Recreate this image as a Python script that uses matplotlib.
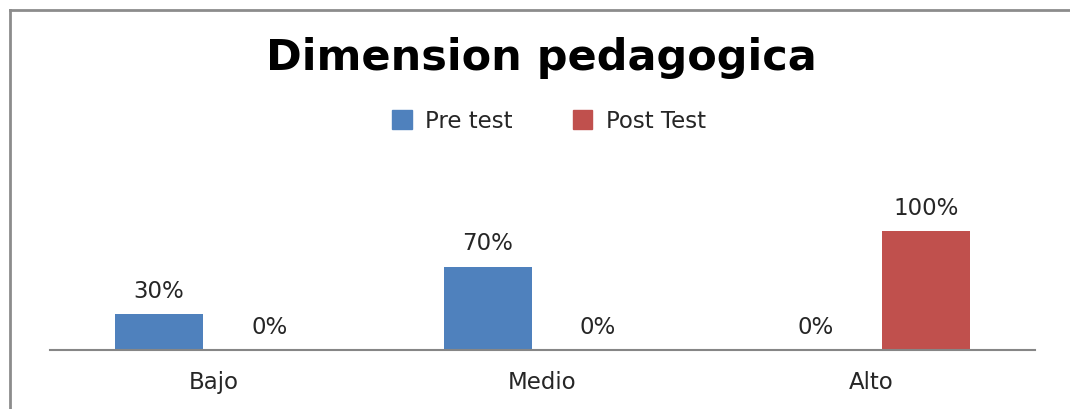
import numpy as np
import matplotlib.pyplot as plt
from matplotlib.lines import Line2D
from matplotlib.patches import Patch

# data
categories = ['Bajo', 'Medio', 'Alto']
pre_test = [0.30, 0.70, 0.0]
post_test = [0.0, 0.0, 1.00]
series_names = ['Pre test', 'Post Test']

blue = '#4F81BD'
red = '#C0504D'
W, H = 1070, 409

fig = plt.figure(figsize=(W / 100, H / 100), dpi=100)
ax = fig.add_axes([50 / W, (H - 350) / H, 985 / W, 143 / H])

x = np.arange(len(categories))
bw = 0.268
off = 0.1675
b1 = ax.bar(x - off, pre_test, bw, color=blue)
b2 = ax.bar(x + off, post_test, bw, color=red)

# value labels over each bar
for bars, vals in ((b1, pre_test), (b2, post_test)):
    for b, v in zip(bars, vals):
        ax.annotate(f'{v:.0%}', (b.get_x() + b.get_width() / 2, v),
                    xytext=(0, 8), textcoords='offset points',
                    ha='center', va='bottom', fontsize=16.5, color='#262626')

ax.set_xlim(-0.5, 2.5)
ax.set_ylim(0, 1.2)
ax.set_xticks(x)
ax.set_xticklabels(categories, fontsize=16.5, color='#262626')
ax.tick_params(axis='x', length=0, pad=15)
ax.set_yticks([])
for s in ('top', 'right', 'left'):
    ax.spines[s].set_visible(False)
ax.spines['bottom'].set_color('#868686')
ax.spines['bottom'].set_linewidth(1.5)

fig.text(541 / W, 1 - 58 / H, 'Dimension pedagogica', ha='center', va='center',
         fontsize=31, fontweight='bold', color='black')

handles = [Patch(color=blue), Patch(color=red)]
fig.legend(handles, series_names, loc='center', bbox_to_anchor=(549 / W, 1 - 121 / H),
           ncol=2, frameon=False, fontsize=16.5, handlelength=0.85, handleheight=0.85,
           columnspacing=2.6, handletextpad=0.6, labelcolor='#262626')

# outer chart border (left and top edges)
fig.add_artist(Line2D([9.5 / W, 9.5 / W], [0, 1 - 10 / H], transform=fig.transFigure,
                      color='#8c8c8c', lw=2))
fig.add_artist(Line2D([9.5 / W, 1], [1 - 10 / H, 1 - 10 / H], transform=fig.transFigure,
                      color='#8c8c8c', lw=2))

fig.savefig('out.png', dpi=100)
